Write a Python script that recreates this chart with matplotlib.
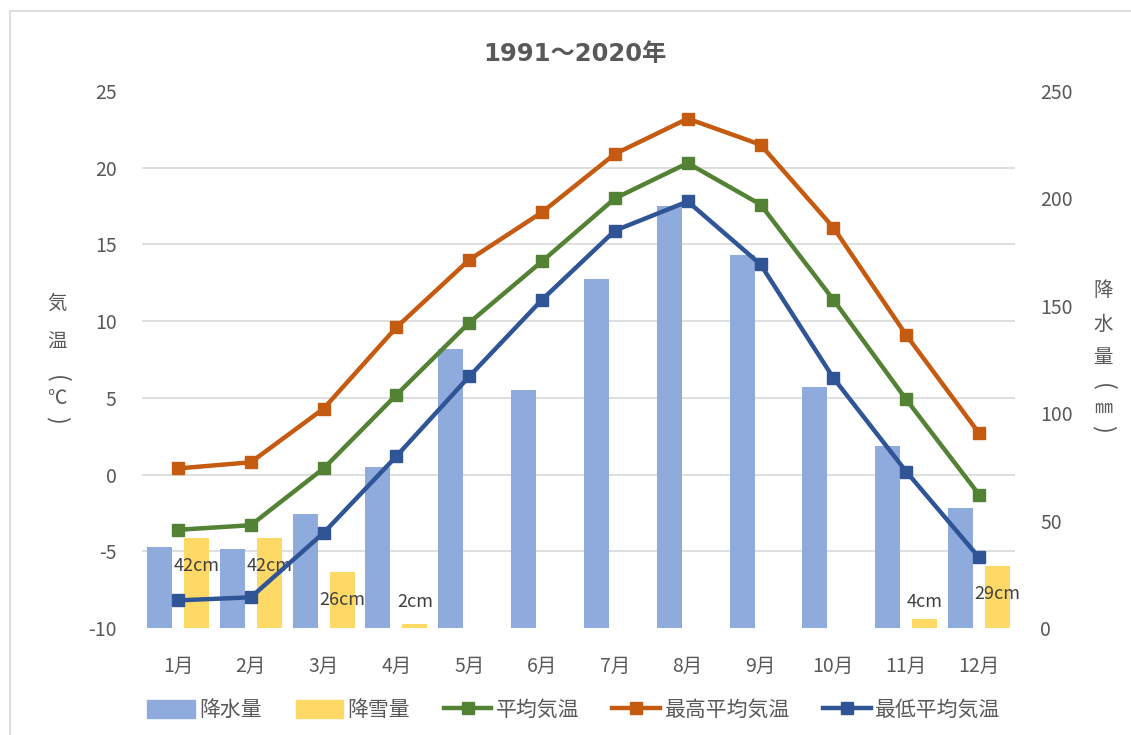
import matplotlib
matplotlib.use('Agg')
import matplotlib.pyplot as plt
from matplotlib.patches import Rectangle
from matplotlib.lines import Line2D
import numpy as np

plt.rcParams['font.family'] = ['Noto Sans CJK JP', 'DejaVu Sans']
plt.rcParams['axes.unicode_minus'] = False

months = ['1月', '2月', '3月', '4月', '5月', '6月', '7月', '8月', '9月', '10月', '11月', '12月']
precip = [37.7, 36.8, 53.0, 75.0, 130.0, 111.0, 162.5, 196.5, 173.6, 112.0, 84.7, 55.9]
snow = [42, 42, 26, 2, 0, 0, 0, 0, 0, 0, 4, 29]
temp_max = [0.4, 0.8, 4.3, 9.6, 14.0, 17.1, 20.9, 23.2, 21.5, 16.1, 9.1, 2.7]
temp_mean = [-3.6, -3.3, 0.4, 5.2, 9.9, 13.9, 18.0, 20.3, 17.6, 11.4, 4.9, -1.3]
temp_min = [-8.2, -8.0, -3.8, 1.2, 6.4, 11.4, 15.9, 17.8, 13.7, 6.3, 0.2, -5.4]

title = '1991～2020年'
temp_ticks = [-10, -5, 0, 5, 10, 15, 20, 25]
precip_ticks = [0, 50, 100, 150, 200, 250]

C_RAIN = '#8FAADC'
C_SNOW = '#FFD966'
C_MEAN = '#548235'
C_MAX = '#C55A11'
C_MIN = '#2F5597'
C_TXT = '#595959'
C_GRID = '#D9D9D9'

W, H = 1131, 735
fig = plt.figure(figsize=(W / 100, H / 100), dpi=100)
fig.patch.set_facecolor('white')
fig.patches.append(Rectangle((10 / W, -0.05), 1.2, 1.05 - 11 / H, transform=fig.transFigure,
                             fill=False, edgecolor=C_GRID, lw=1.2))

left, right = 141.6 / W, 1015.4 / W
bottom, top = 1 - 628 / H, 1 - 91 / H
ax_p = fig.add_axes([left, bottom, right - left, top - bottom])
ax_t = ax_p.twinx()
ax_t.yaxis.tick_left()
ax_p.yaxis.tick_right()

x = np.arange(len(months))
bw = 0.343
off = 0.254
ax_p.bar(x - off, precip, width=bw, color=C_RAIN, zorder=2, label='降水量')
ax_p.bar(x + off, snow, width=bw, color=C_SNOW, zorder=2, label='降雪量')
for xi, v in zip(x, snow):
    if v > 0:
        ax_p.text(xi + off, max(v - 13, 12), f'{v}cm', ha='center', va='center',
                  fontsize=13, color='#404040', zorder=3)

ax_p.set_ylim(0, 250)
ax_p.set_yticks(precip_ticks)
ax_p.set_xlim(-0.5, len(months) - 0.5)
ax_p.set_xticks(x)
ax_p.set_xticklabels(months)
grid_pos = [(t - temp_ticks[0]) / (temp_ticks[-1] - temp_ticks[0]) * 250 for t in temp_ticks]
ax_p.set_yticks(grid_pos, minor=True)
ax_p.grid(which='minor', axis='y', color=C_GRID, lw=1.2, zorder=0)
ax_p.set_axisbelow(True)
ax_p.tick_params(axis='y', which='both', length=0, pad=18, labelsize=14, labelcolor=C_TXT)
ax_p.tick_params(axis='x', length=0, pad=20, labelsize=14, labelcolor=C_TXT)

kw = dict(lw=3.2, marker='s', markersize=8, solid_joinstyle='round', zorder=4)
ax_t.plot(x, temp_max, color=C_MAX, label='最高平均気温', **kw)
ax_t.plot(x, temp_mean, color=C_MEAN, label='平均気温', **kw)
ax_t.plot(x, temp_min, color=C_MIN, label='最低平均気温', **kw)
ax_t.set_ylim(-10, 25)
ax_t.set_yticks(temp_ticks)
ax_t.tick_params(axis='y', length=0, pad=18, labelsize=14, labelcolor=C_TXT)

for a in (ax_p, ax_t):
    for s in a.spines.values():
        s.set_visible(False)

fig.text(575 / W, 1 - 54 / H, title, ha='center', va='center', fontsize=17.5,
         fontweight='bold', color=C_TXT, family=['DejaVu Sans', 'Noto Sans CJK JP'])


def vlabel(xpx, items):
    for ch, ypx, rot, fs in items:
        fig.text(xpx / W, 1 - ypx / H, ch, ha='center', va='center', fontsize=fs,
                 color=C_TXT, rotation=rot)


vlabel(57, [('気', 303, 0, 14), ('温', 342, 0, 14), ('(', 379, -90, 17),
            ('℃', 399, 0, 14), (')', 420, -90, 17)])
vlabel(1103, [('降', 290, 0, 14), ('水', 324, 0, 14), ('量', 357, 0, 14),
              ('(', 387, -90, 17), ('㎜', 408, 0, 13), (')', 429, -90, 17)])

handles = [
    Rectangle((0, 0), 1, 1, color=C_RAIN),
    Rectangle((0, 0), 1, 1, color=C_SNOW),
    Line2D([], [], color=C_MEAN, lw=3.2, marker='s', markersize=8),
    Line2D([], [], color=C_MAX, lw=3.2, marker='s', markersize=8),
    Line2D([], [], color=C_MIN, lw=3.2, marker='s', markersize=8),
]
labels = ['降水量', '降雪量', '平均気温', '最高平均気温', '最低平均気温']
leg = fig.legend(handles, labels, loc='center', bbox_to_anchor=(574 / W, 1 - 710 / H),
                 ncol=5, frameon=False, fontsize=15, handlelength=2.3,
                 handletextpad=0.2, columnspacing=1.6, handleheight=1.0)
for t in leg.get_texts():
    t.set_color(C_TXT)

fig.savefig('out.png', dpi=100)
